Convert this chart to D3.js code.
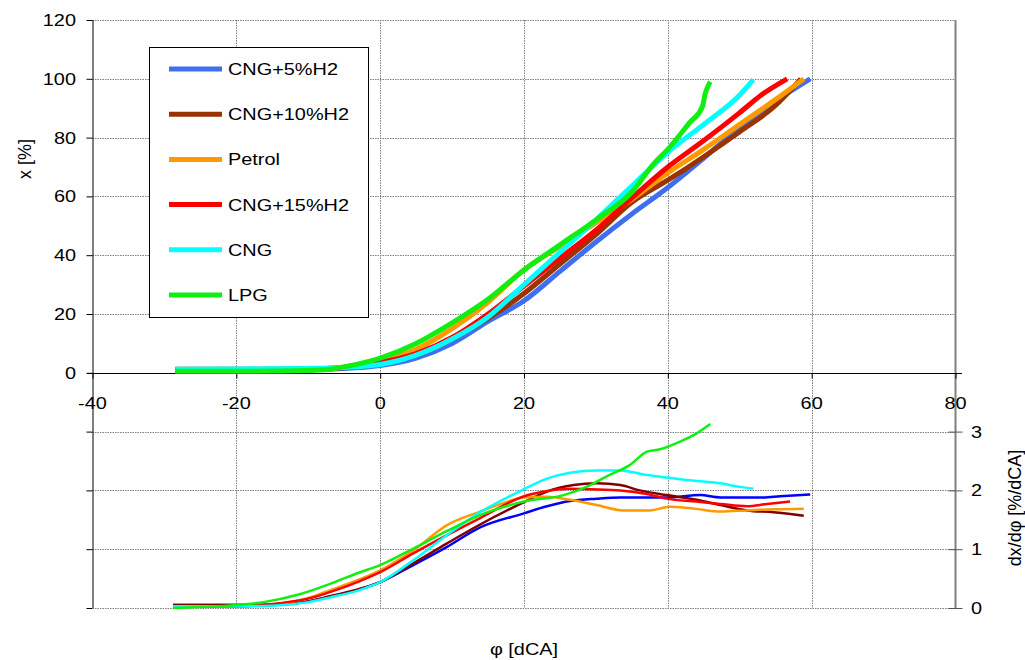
<!DOCTYPE html>
<html><head><meta charset="utf-8">
<script src="https://cdn.jsdelivr.net/npm/d3@7"></script>
<style>body{margin:0;background:#fff}svg{display:block}text{font-family:"Liberation Sans",Arial,sans-serif;fill:#000}</style>
</head><body>
<script>
// ---------- data ----------
const seriesNames = ["CNG+5%H2","CNG+10%H2","Petrol","CNG+15%H2","CNG","LPG"];
const xTicks = [-40,-20,0,20,40,60,80];
const yTicks = [0,20,40,60,80,100,120];
const yRTicks = [0,1,2,3];

// top chart: burned fraction x [%] vs phi [dCA]
const phiTop5 = [-28.5,-20,-10,-5,0,5,10,15,20,25,30,35,40,45,50,55,59.8];
const xTop5   = [1,1,1.2,1.5,2.5,5,10,17.5,24.5,34.5,44.5,54,63,73,83.5,92.5,100];
const phiTop10 = [-28.5,-20,-10,-5,0,5,10,15,20,25,30,35,40,45,50,55,58.5];
const xTop10   = [1.2,1.2,1.3,1.8,3,6,11.5,18.5,27,37,47,58,65.5,73.5,82,91,100];
const phiTopPetrol = [-28.5,-20,-10,-5,0,5,10,15,20,25,30,35,40,45,50,55,58.9];
const xTopPetrol   = [0.8,0.8,1,2,4,8,15,24,35,43,51,59,68,76,84.5,93,100];
const phiTop15 = [-28.5,-20,-10,-5,0,5,10,15,20,25,30,35,40,45,50,53,56.6];
const xTop15   = [0.8,0.8,1,1.8,3.5,6.5,12,20,29.5,39,48.5,59.5,70,79,88.5,94.5,100];
const phiTopCNG = [-28.5,-20,-10,-5,0,5,10,15,20,25,30,35,40,45,50,51.9];
const xTopCNG   = [1.2,1.3,1.5,1.8,2.8,6,11.5,19,30,41,52,63.5,75,84.5,94.5,99.7];
const phiTopLPG = [-28.5,-20,-10,-7,-5,0,5,10,15,20,25,30,35,38,40,43,44.8,45.2,45.9];
const xTopLPG   = [0.5,0.5,0.8,1.2,2,5,10,17,25,35,43.5,52,61.5,71,76,85,90.5,95,99];

// bottom chart: dx/dphi [%/dCA] vs phi
const phiBot5 = [-28.8,-20,-14,-9.3,-7,-3,0,4.6,9.3,13.9,20,23.2,26.4,30.1,33.4,40,44.5,47.3,53.3,55.6,59.8];
const rBot5   = [0.05,0.05,0.06,0.13,0.19,0.31,0.44,0.73,1.04,1.37,1.61,1.73,1.82,1.86,1.88,1.88,1.92,1.88,1.88,1.9,1.93];
const phiBot10 = [-28.8,-20,-14,-9.3,-7,-3,0,4.6,9.3,13.9,20,23.2,26.9,30.1,33.4,36.1,39.8,44,47.3,51,54.7,58.9];
const rBot10   = [0.05,0.05,0.06,0.13,0.2,0.32,0.44,0.76,1.1,1.42,1.8,1.98,2.09,2.12,2.09,2.0,1.92,1.84,1.75,1.66,1.63,1.57];
const phiBotPetrol = [-28.8,-20,-15,-10,-7,-3,0,4.6,9.3,13.9,17,20,23.2,26.4,30.1,33.8,37.5,40.3,43.6,47.3,51,54.7,58.9];
const rBotPetrol   = [0.02,0.02,0.06,0.17,0.3,0.48,0.64,0.98,1.41,1.64,1.78,1.88,1.89,1.84,1.75,1.66,1.66,1.72,1.69,1.64,1.66,1.68,1.69];
const phiBot15 = [-28.8,-20,-14,-9.3,-7,-3,0,4.6,9.3,13.9,20,23.2,26.4,29.2,33.4,37.1,39.8,44,47.3,51,53.8,57];
const rBot15   = [0.03,0.03,0.08,0.18,0.27,0.45,0.61,0.93,1.24,1.53,1.9,1.99,2.03,2.02,2.0,1.94,1.86,1.81,1.77,1.73,1.77,1.81];
const phiBotCNG = [-28.8,-20,-15,-10,-7,-3,0,4.6,9.3,13.9,20,23.2,26.4,30.1,33.4,37.1,39.8,44,47.3,50,51.9];
const rBotCNG   = [0.03,0.03,0.04,0.1,0.18,0.3,0.44,0.81,1.24,1.63,2.02,2.2,2.3,2.34,2.34,2.26,2.22,2.16,2.12,2.06,2.03];
const phiBotLPG = [-28.8,-20,-16.2,-11.6,-7,-3,0,4.6,9.3,13.9,20,25.5,28.7,31.5,34.7,37.1,38.9,41.7,44,45.9];
const rBotLPG   = [0,0.05,0.1,0.22,0.41,0.6,0.73,1.01,1.31,1.58,1.81,1.92,2.06,2.24,2.43,2.66,2.70,2.83,2.97,3.13];

const topPhi = [phiTop5,phiTop10,phiTopPetrol,phiTop15,phiTopCNG,phiTopLPG];
const topVal = [xTop5,xTop10,xTopPetrol,xTop15,xTopCNG,xTopLPG];
const botPhi = [phiBot5,phiBot10,phiBotPetrol,phiBot15,phiBotCNG,phiBotLPG];
const botVal = [rBot5,rBot10,rBotPetrol,rBot15,rBotCNG,rBotLPG];

// ---------- styles ----------
const topColors = ["#3f6ff0","#993300","#ff9900","#ff0000","#00ffff","#11ee11"];
const botColors = ["#0000ff","#800000","#ff9900","#ff0000","#00ffff","#11ee11"];
const SX = 1.17;

const svg = d3.select("body").append("svg").attr("width",1025).attr("height",660);
const x = d3.scaleLinear([-40,80],[92.5,955.5]);
const y = d3.scaleLinear([-80,120],[608,20]);
const yR = d3.scaleLinear([0,10],[608,20]);

// grid
const grid = svg.append("g").attr("stroke","#7f7f7f").attr("stroke-width",1).attr("stroke-dasharray","1.5,1");
d3.range(-80,121,20).filter(v=>v!==0).forEach(v=>{
  grid.append("line").attr("x1",x(-40)).attr("x2",x(80)).attr("y1",Math.round(y(v))+0.5).attr("y2",Math.round(y(v))+0.5);
});
[-20,0,20,40,60].forEach(v=>{
  grid.append("line").attr("x1",Math.round(x(v))+0.5).attr("x2",Math.round(x(v))+0.5).attr("y1",y(120)).attr("y2",y(-80));
});

// left axis
svg.append("g").attr("transform",`translate(${x(-40)},0)`)
  .call(d3.axisLeft(y).tickValues(d3.range(-80,121,20)).tickSize(6).tickFormat(""))
  .call(g=>{g.select(".domain").attr("d",`M0.5,${y(120)}V${y(-80)}`).attr("stroke","#000");g.selectAll(".tick line").attr("stroke","#000");});
// right axis
svg.append("g").attr("transform",`translate(${x(80)},0)`)
  .call(d3.axisRight(yR).tickValues(yRTicks).tickSize(7).tickFormat(""))
  .call(g=>{g.select(".domain").attr("d",`M0,${y(120)}V${y(-80)}`).attr("stroke","#808080").attr("stroke-width",2);
            g.selectAll(".tick line").attr("x1",-7).attr("stroke","#555");});
// x axis
svg.append("g").attr("transform",`translate(0,${Math.round(y(0))+0.5})`)
  .call(d3.axisBottom(x).tickValues(xTicks).tickSize(5).tickFormat(""))
  .call(g=>{g.select(".domain").attr("d",`M87,0H962`).attr("stroke","#000");g.selectAll(".tick line").attr("stroke","#000");});

function stext(px,py,str,anchor,size){
  return svg.append("text").attr("transform",`translate(${px},${py}) scale(${SX},1)`)
    .attr("text-anchor",anchor).attr("font-size",size).text(str);
}
yTicks.forEach(v=>stext(76,y(v)+6,v,"end",17));
xTicks.forEach(v=>stext(x(v),409,v,"middle",17));
yRTicks.forEach(v=>stext(971,yR(v)+6,v,"start",17));

// titles
svg.append("text").attr("transform","translate(31,159) rotate(-90)").attr("text-anchor","middle").attr("font-size",18).text("x [%]");
svg.append("text").attr("transform","translate(1021,508) rotate(-90)").attr("text-anchor","middle").attr("font-size",18).text("dx/dφ [%/dCA]");
stext(524,655,"φ [dCA]","middle",17);

// lines
const lineTop = d3.line().x(d=>x(d[0])).y(d=>y(d[1])).curve(d3.curveMonotoneX);
const lineBot = d3.line().x(d=>x(d[0])).y(d=>yR(d[1])).curve(d3.curveMonotoneX);
botPhi.forEach((ph,i)=>{
  svg.append("path").attr("d",lineBot(ph.map((p,j)=>[p,botVal[i][j]]))).attr("fill","none")
    .attr("stroke",botColors[i]).attr("stroke-width",2.5).attr("stroke-linejoin","round");
});
topPhi.forEach((ph,i)=>{
  svg.append("path").attr("d",lineTop(ph.map((p,j)=>[p,topVal[i][j]]))).attr("fill","none")
    .attr("stroke",topColors[i]).attr("stroke-width",5).attr("stroke-linejoin","round");
});

// legend
const lg = svg.append("g");
lg.append("rect").attr("x",149.5).attr("y",47.5).attr("width",219).attr("height",270).attr("fill","#fff").attr("stroke","#000");
const rowY = d3.scaleLinear([0,5],[69,295]);
seriesNames.forEach((n,i)=>{
  lg.append("line").attr("x1",169).attr("x2",222).attr("y1",rowY(i)).attr("y2",rowY(i)).attr("stroke",topColors[i]).attr("stroke-width",5);
  lg.append("text").attr("transform",`translate(228,${rowY(i)+6}) scale(${SX},1)`).attr("font-size",17).text(n);
});
</script>
</body></html>
